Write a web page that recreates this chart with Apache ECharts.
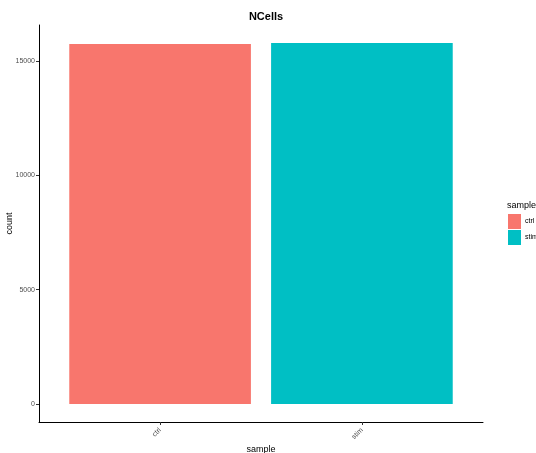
<!DOCTYPE html>
<html>
<head>
<meta charset="utf-8">
<script src="https://cdn.jsdelivr.net/npm/echarts@6/dist/echarts.min.js"></script>
<style>
  html, body { margin: 0; padding: 0; background: #fff; }
  #chart { width: 536px; height: 453px; }
</style>
</head>
<body>
<div id="chart"></div>
<script>
// Cell counts per sample
const samples = ['ctrl', 'stim'];
const counts = [15740, 15780];
const colors = ['#F8766D', '#00BFC4'];
const yTicks = [0, 5000, 10000, 15000];

// Discrete positions 1..n with ggplot-style padding of 0.6 units
const positions = samples.map((_, i) => i + 1);
const xMin = 0.4, xMax = samples.length + 0.6;
const yMax = Math.max(...counts);
const yPad = yMax * 0.05;

const chart = echarts.init(document.getElementById('chart'), null, { renderer: 'canvas' });

const gridLeft = 39, gridRight = 53, gridTop = 25, gridBottom = 31;
const plotWidth = 536 - gridLeft - gridRight;
const barPx = plotWidth / (xMax - xMin) * 0.9;

chart.setOption({
  animation: false,
  backgroundColor: '#ffffff',
  textStyle: { fontFamily: 'Liberation Sans, Arial, sans-serif' },
  title: {
    text: 'NCells',
    left: gridLeft + plotWidth / 2,
    textAlign: 'center',
    top: 6,
    textStyle: { fontSize: 11, fontWeight: 'bold', color: '#000' }
  },
  grid: {
    left: gridLeft, right: gridRight, top: gridTop, bottom: gridBottom,
    containLabel: false,
    outerBoundsMode: 'none'
  },
  legend: {
    orient: 'vertical',
    left: 508,
    top: 214,
    padding: 0,
    itemWidth: 13,
    itemHeight: 15,
    itemGap: 1,
    icon: 'rect',
    textStyle: { fontSize: 7, color: '#000', padding: [0, 0, 0, -1] },
    data: samples
  },
  graphic: [{
    type: 'text',
    left: 507,
    top: 201,
    style: { text: 'sample', fontSize: 9, fill: '#000', fontFamily: 'Liberation Sans, Arial, sans-serif' }
  }],
  xAxis: {
    type: 'value',
    min: xMin,
    max: xMax,
    name: 'sample',
    nameLocation: 'middle',
    nameGap: 23,
    nameMoveOverlap: false,
    nameTextStyle: { fontSize: 9, color: '#000' },
    axisLine: { show: true, onZero: false, lineStyle: { color: '#000', width: 1 } },
    axisTick: { show: true, length: 3, lineStyle: { color: '#333' }, customValues: positions },
    splitLine: { show: false },
    axisLabel: {
      customValues: positions,
      rotate: 45,
      fontSize: 7,
      color: '#4d4d4d',
      margin: 7,
      formatter: v => samples[Math.round(v) - 1] || ''
    }
  },
  yAxis: {
    type: 'value',
    min: -yPad,
    max: yMax + yPad,
    name: 'count',
    nameLocation: 'middle',
    nameGap: 25,
    nameMoveOverlap: false,
    nameTextStyle: { fontSize: 9, color: '#000' },
    axisLine: { show: true, onZero: false, lineStyle: { color: '#000', width: 1 } },
    axisTick: { show: true, length: 3, lineStyle: { color: '#333' }, customValues: yTicks },
    splitLine: { show: false },
    axisLabel: {
      customValues: yTicks,
      fontSize: 7,
      color: '#4d4d4d',
      margin: 4,
      formatter: v => String(v)
    }
  },
  series: samples.map((s, i) => ({
    name: s,
    type: 'bar',
    barWidth: barPx,
    barGap: '-100%',
    itemStyle: { color: colors[i] },
    data: [[positions[i], counts[i]]]
  }))
});
</script>
</body>
</html>
